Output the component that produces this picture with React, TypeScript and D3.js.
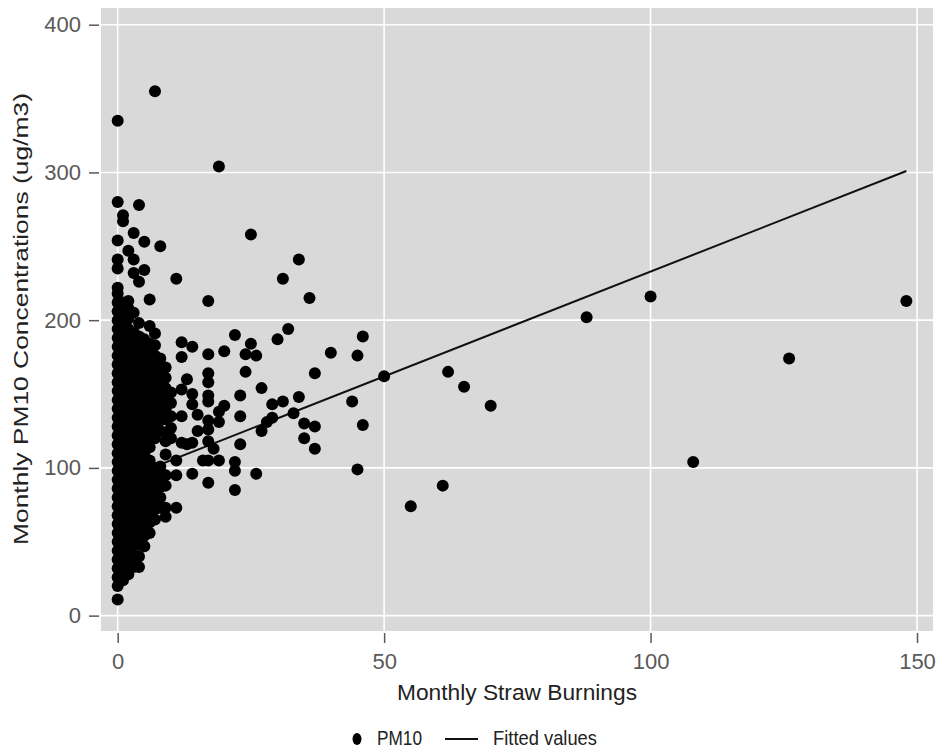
import { useEffect, useRef } from "react";
import * as d3 from "d3";

// dense part of the cloud: one list of PM10 values per burning count
const denseBurnings = [0, 1, 2, 3, 4, 5, 6, 7, 8, 9, 10];
const densePm10 = [
  [11, 20, 26, 32, 38, 44, 50, 56, 62, 68, 74, 80, 86, 92, 98, 104, 110, 116, 122, 128, 134, 140, 146, 152, 158, 164, 170, 176, 182, 188, 194, 200, 206, 212, 218, 222, 235, 241, 254, 280, 335],
  [24, 30, 37, 44, 51, 58, 65, 72, 79, 86, 93, 100, 107, 114, 121, 128, 135, 142, 149, 156, 163, 170, 177, 184, 191, 198, 205, 212, 267, 271],
  [28, 33, 40, 47, 54, 61, 68, 75, 82, 89, 96, 103, 110, 117, 124, 131, 138, 145, 152, 159, 166, 173, 180, 187, 194, 201, 208, 213, 247],
  [33, 40, 47, 54, 61, 68, 75, 82, 89, 96, 103, 110, 117, 124, 131, 138, 145, 152, 159, 166, 173, 180, 186, 192, 205, 232, 241, 259],
  [33, 40, 48, 56, 63, 70, 77, 84, 91, 98, 105, 112, 119, 126, 133, 140, 147, 154, 161, 168, 175, 182, 189, 198, 226, 278],
  [47, 54, 61, 68, 75, 82, 89, 96, 103, 110, 117, 124, 131, 138, 145, 152, 159, 166, 173, 180, 187, 234, 253],
  [56, 63, 70, 77, 84, 91, 98, 105, 114, 121, 128, 135, 142, 149, 156, 163, 170, 177, 184, 196, 214],
  [65, 72, 79, 86, 93, 100, 120, 127, 134, 141, 148, 155, 162, 169, 176, 183, 191, 355],
  [73, 80, 87, 94, 101, 125, 132, 139, 146, 153, 160, 167, 174, 250],
  [67, 73, 88, 95, 109, 118, 124, 133, 140, 147, 154, 161, 168],
  [120, 127, 135, 144, 151],
];

// scattered observations
const sparseBurnings = [
  11, 11, 11, 11, 12, 12, 12, 12, 12, 13, 13, 14, 14, 14, 14, 14, 15, 15, 16,
  17, 17, 17, 17, 17, 17, 17, 17, 17, 17, 17, 18, 19, 19, 19, 19, 20, 20, 22,
  22, 22, 22, 23, 23, 23, 24, 24, 25, 25, 26, 26, 27, 27, 28, 29, 29, 30, 31,
  31, 32, 33, 34, 34, 35, 35, 36, 37, 37, 37, 40, 44, 45, 45, 46, 46, 50, 55,
  61, 62, 65, 70, 88, 100, 108, 126, 148,
];
const sparsePm10 = [
  228, 105, 95, 73, 185, 175, 153, 135, 117, 160, 116, 182, 150, 143, 117, 96, 136, 125, 105,
  213, 177, 164, 158, 149, 145, 132, 126, 118, 105, 90, 113, 304, 138, 131, 105, 179, 142, 190,
  104, 98, 85, 149, 135, 116, 177, 165, 258, 184, 176, 96, 154, 125, 131, 143, 134, 187, 228,
  145, 194, 137, 241, 148, 130, 120, 215, 164, 128, 113, 178, 145, 176, 99, 189, 129, 162, 74,
  88, 165, 155, 142, 202, 216, 104, 174, 213,
];

// linear fit, end points
const fitBurnings = [0, 148];
const fitPm10 = [91, 301];

const xTicks = [0, 50, 100, 150];
const yTicks = [0, 100, 200, 300, 400];

export default function App() {
  const ref = useRef<SVGSVGElement | null>(null);

  useEffect(() => {
    buildGraph();
  }, []);

  function buildGraph() {
    const width = 937;
    const height = 750;
    const left = 101, right = 933, top = 8, bottom = 631;
    const font = "'Liberation Sans', Arial, sans-serif";
    const tickGray = "#595959";

    const x = d3.scaleLinear().domain([-3.13, 153]).range([left, right]);
    const y = d3.scaleLinear().domain([-10.4, 411.3]).range([bottom, top]);

    const svg = d3.select(ref.current);
    svg.selectAll("*").remove();
    svg.attr("width", width).attr("height", height).attr("viewBox", [0, 0, width, height].join(" "));

    svg.append("rect").attr("width", width).attr("height", height).attr("fill", "white");

    // plot panel
    svg.append("rect")
      .attr("x", left).attr("y", top)
      .attr("width", right - left).attr("height", bottom - top)
      .attr("fill", "#d9d9d9");

    // grid
    svg.append("g")
      .selectAll("line")
      .data(xTicks)
      .join("line")
        .attr("x1", d => x(d)).attr("x2", d => x(d))
        .attr("y1", top).attr("y2", bottom)
        .attr("stroke", "white").attr("stroke-width", 1.6);
    svg.append("g")
      .selectAll("line")
      .data(yTicks)
      .join("line")
        .attr("y1", d => y(d)).attr("y2", d => y(d))
        .attr("x1", left).attr("x2", right)
        .attr("stroke", "white").attr("stroke-width", 1.6);

    // fitted line (under the points)
    const line = d3.line<number>()
      .x(d => x(d))
      .y((d, i) => y(fitPm10[i]));
    svg.append("path")
      .attr("d", line(fitBurnings))
      .attr("fill", "none")
      .attr("stroke", "#111")
      .attr("stroke-width", 2);

    // points
    const points: [number, number][] = [];
    denseBurnings.forEach((b, i) => densePm10[i].forEach(v => points.push([b, v])));
    sparseBurnings.forEach((b, i) => points.push([b, sparsePm10[i]]));

    svg.append("g")
      .selectAll("circle")
      .data(points)
      .join("circle")
        .attr("cx", d => x(d[0]))
        .attr("cy", d => y(d[1]))
        .attr("r", 6)
        .attr("fill", "black");

    // y axis
    svg.append("g")
        .attr("transform", `translate(${left - 2},0)`)
      .call(d3.axisLeft(y).tickValues(yTicks).tickSize(10).tickPadding(8).tickFormat(d3.format("d")))
      .call(g => g.select(".domain").remove())
      .call(g => g.selectAll("line").attr("stroke", tickGray).attr("stroke-width", 1.5))
      .call(g => g.selectAll("text").attr("fill", tickGray).attr("font-size", 22).attr("font-family", font));

    // x axis
    svg.append("g")
        .attr("transform", `translate(0,${bottom + 2})`)
      .call(d3.axisBottom(x).tickValues(xTicks).tickSize(10).tickPadding(10).tickFormat(d3.format("d")))
      .call(g => g.select(".domain").remove())
      .call(g => g.selectAll("line").attr("stroke", tickGray).attr("stroke-width", 1.5))
      .call(g => g.selectAll("text").attr("fill", tickGray).attr("font-size", 22).attr("font-family", font));

    // titles
    svg.append("text")
      .attr("x", 517).attr("y", 700)
      .attr("text-anchor", "middle")
      .attr("font-family", font).attr("font-size", 22).attr("fill", "#222")
      .attr("textLength", 240).attr("lengthAdjust", "spacingAndGlyphs")
      .text("Monthly Straw Burnings");

    svg.append("text")
      .attr("transform", `translate(28,319) rotate(-90)`)
      .attr("text-anchor", "middle")
      .attr("font-family", font).attr("font-size", 21).attr("fill", "#222")
      .attr("textLength", 452).attr("lengthAdjust", "spacingAndGlyphs")
      .text("Monthly PM10 Concentrations (ug/m3)");

    // legend
    const leg = svg.append("g").attr("font-family", font).attr("font-size", 21).attr("fill", "#222");
    leg.append("ellipse").attr("cx", 357).attr("cy", 739).attr("rx", 4.5).attr("ry", 6).attr("fill", "black");
    leg.append("text").attr("x", 377).attr("y", 745)
      .attr("textLength", 45).attr("lengthAdjust", "spacingAndGlyphs").text("PM10");
    leg.append("line").attr("x1", 445).attr("x2", 478).attr("y1", 739).attr("y2", 739)
      .attr("stroke", "#111").attr("stroke-width", 2);
    leg.append("text").attr("x", 493).attr("y", 745)
      .attr("textLength", 104).attr("lengthAdjust", "spacingAndGlyphs").text("Fitted values");
  }

  return (
    <svg ref={ref} style={{ position: "absolute", left: 0, top: 0 }} />
  );
}
